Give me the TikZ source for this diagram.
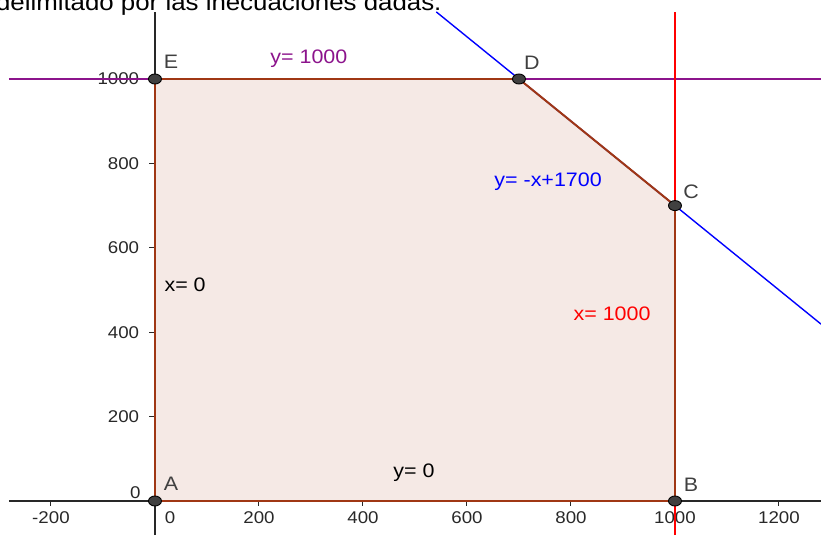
\documentclass[tikz,border=0pt]{standalone}
\usepackage{fontspec}
\setmainfont{Liberation Sans}[FakeStretch=1.1]
\usetikzlibrary{shapes.geometric}

\definecolor{regionfill}{RGB}{245,233,229}
\definecolor{edgebrown}{RGB}{160,55,20}
\definecolor{geopurple}{RGB}{140,20,140}
\definecolor{ptgray}{RGB}{64,64,64}
\definecolor{axisgray}{RGB}{40,40,40}

\newcommand{\lblfont}{\fontsize{19.5}{22}\selectfont}
\newcommand{\tickfont}{\fontsize{17}{19}\selectfont}

\begin{document}
\begin{tikzpicture}[x=0.52pt,y=0.422pt,
    dot/.style={ellipse,draw=black,fill=ptgray,line width=0.9pt,minimum width=13pt,minimum height=10pt,inner sep=0pt},
    ptlabel/.style={text=ptgray,font=\lblfont,inner sep=0pt},
    eqlabel/.style={font=\lblfont,inner sep=0pt},
    ticklabel/.style={font=\tickfont,inner sep=0pt,text=axisgray}]

  \useasboundingbox (-298,-80.6) rectangle (1280.8,1187.2);

  % heading, cut at the top
  \node[anchor=base west,inner sep=0pt,font=\fontsize{23.5}{28}\selectfont] (title) at (-306,1163)
    {delimitado por las inecuaciones dadas.};

  % vertices of the region
  \coordinate (A) at (0,0);
  \coordinate (B) at (1000,0);
  \coordinate (C) at (1000,700);
  \coordinate (D) at (700,1000);
  \coordinate (E) at (0,1000);

  % free ends of the lines and axes
  \coordinate (xl) at (-281,0);
  \coordinate (xr) at (1281,0);
  \coordinate (yb) at (0,-81);
  \coordinate (yt) at (0,1159);
  \coordinate (pl) at (-281,1000);
  \coordinate (pr) at (1281,1000);
  \coordinate (rb) at (1000,-81);
  \coordinate (rt) at (1000,1159);
  \coordinate (bt) at (541,1159);
  \coordinate (br) at (1281,419);

  \fill[regionfill] (A) -- (B) -- (C) -- (D) -- (E) -- cycle;

  % axes
  \begin{scope}[axisgray,line width=1.5pt]
    \draw (xl) -- (xr);
    \draw (yb) -- (yt);
    \foreach \t in {-200,200,400,600,800,1000,1200} {
      \draw[line width=1pt] (\t,0) -- (\t,-12);
      \node[ticklabel] (xt\t) at (\t,-40) {\t};
    }
    \foreach \t in {200,400,600,800,1000} {
      \draw[line width=1pt] (0,\t) -- (-11.5,\t);
      \node[ticklabel,anchor=east] (yt\t) at (-29,\t) {\t};
    }
    \node[ticklabel] (xt0) at (29,-40) {0};
    \node[ticklabel] (yt0) at (-38,19) {0};
  \end{scope}

  % the lines
  \draw[geopurple,line width=1.1pt] (pl) -- (pr);
  \draw[red,line width=1.4pt] (rb) -- (rt);
  \draw[blue,line width=1.4pt] (bt) -- (br);

  % edges of the region
  \begin{scope}[every edge/.style={draw=edgebrown,line width=2pt}]
    \path (A) edge (B);
    \path (B) edge (C);
    \path (C) edge (D);
    \path (D) edge (E);
    \path (E) edge (A);
  \end{scope}

  \begin{scope}[every node/.style={dot}]
    \node (dA) at (A) {};
    \node (dB) at (B) {};
    \node (dC) at (C) {};
    \node (dD) at (D) {};
    \node (dE) at (E) {};
  \end{scope}

  \node[ptlabel] (lA) at (31,40)    {A};
  \node[ptlabel] (lB) at (1031,38)  {B};
  \node[ptlabel] (lC) at (1031,732) {C};
  \node[ptlabel] (lD) at (725,1038) {D};
  \node[ptlabel] (lE) at (31,1040)  {E};

  \node[eqlabel,text=geopurple] (ly1000) at (296,1047) {y= 1000};
  \node[eqlabel,text=blue]      (lyx)    at (756,756)  {y= -x+1700};
  \node[eqlabel,text=red]       (lx1000) at (879,443)  {x= 1000};
  \node[eqlabel]                (lx0)    at (58,512)   {x= 0};
  \node[eqlabel]                (ly0)    at (498,66)   {y= 0};

\end{tikzpicture}
\end{document}
